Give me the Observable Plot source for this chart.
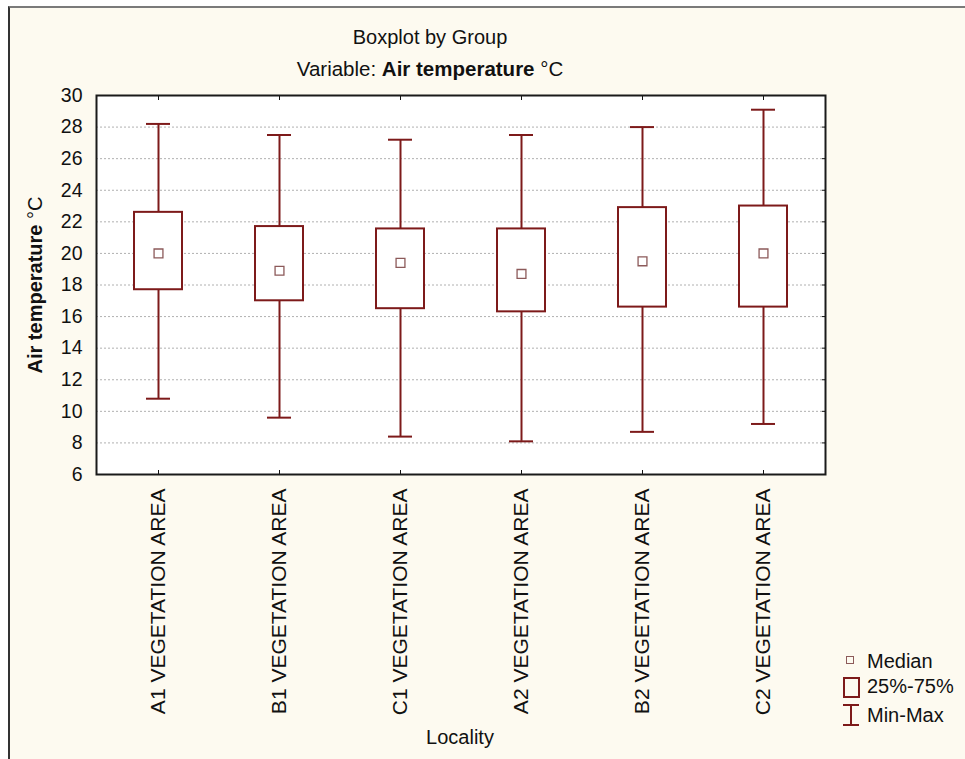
<!DOCTYPE html>
<html>
<head>
<meta charset="utf-8">
<script src="https://cdn.jsdelivr.net/npm/d3@7"></script>
<script src="https://cdn.jsdelivr.net/npm/@observablehq/plot@0.6"></script>
<style>
  body { margin: 0; background: #ffffff; }
  #wrap { position: relative; width: 965px; height: 759px; overflow: hidden; font-family: 'Liberation Sans', Arial, sans-serif; color: #111; }
  #panel { position: absolute; left: 8px; top: 6px; width: 957px; height: 753px; background: #fdfaf0; border-top: 2px solid #7a7a7a; border-left: 2px solid #333; box-sizing: border-box; }
  .t { position: absolute; white-space: nowrap; line-height: 20px; }
  #chart { position: absolute; left: 0; top: 0; }
</style>
</head>
<body>
<div id="wrap">
  <div id="panel"></div>
  <div id="chart"></div>
  <div class="t" style="left:230px; width:400px; text-align:center; top:27px; font-size:20px;">Boxplot by Group</div>
  <div class="t" style="left:180px; width:500px; text-align:center; top:59px; font-size:20.5px;">Variable: <b>Air temperature</b> °C</div>
  <div class="t" style="left:35px; top:285px; font-size:20px; font-weight:bold; transform: translate(-50%,-50%) rotate(-90deg);">Air temperature <span style="font-weight:normal">°C</span></div>
  <div class="t" style="left:310px; width:300px; text-align:center; top:727px; font-size:20px;">Locality</div>
  <!-- legend -->
  <div style="position:absolute; left:846px; top:656px; width:8px; height:8px; border:1.3px solid #8c5a5a; box-sizing:border-box;"></div>
  <div class="t" style="left:867px; top:651px; font-size:20px;">Median</div>
  <div style="position:absolute; left:843px; top:677px; width:17px; height:21px; border:2px solid #7d1a1a; box-sizing:border-box;"></div>
  <div class="t" style="left:867px; top:676px; font-size:20px;">25%-75%</div>
  <div style="position:absolute; left:850px; top:705px; width:2px; height:20px; background:#7d1a1a;"></div>
  <div style="position:absolute; left:843px; top:704px; width:16px; height:2px; background:#7d1a1a;"></div>
  <div style="position:absolute; left:843px; top:724px; width:16px; height:2px; background:#7d1a1a;"></div>
  <div class="t" style="left:867px; top:705px; font-size:20px;">Min-Max</div>
</div>
<script>
const categories = ["A1 VEGETATION AREA", "B1 VEGETATION AREA", "C1 VEGETATION AREA", "A2 VEGETATION AREA", "B2 VEGETATION AREA", "C2 VEGETATION AREA"];
const minValues = [10.8, 9.6, 8.4, 8.1, 8.7, 9.2];
const q1Values = [17.7, 17.0, 16.5, 16.3, 16.6, 16.6];
const medianValues = [20.0, 18.9, 19.4, 18.7, 19.5, 20.0];
const q3Values = [22.6, 21.7, 21.55, 21.55, 22.9, 23.0];
const maxValues = [28.2, 27.5, 27.2, 27.5, 28.0, 29.1];
const yTicks = [6, 8, 10, 12, 14, 16, 18, 20, 22, 24, 26, 28, 30];

const data = categories.map((c, i) => ({
  cat: c, min: minValues[i], q1: q1Values[i], med: medianValues[i], q3: q3Values[i], max: maxValues[i]
}));

const boxColor = "#7d1a1a";
const medColor = "#8c5a5a";

const chart = Plot.plot({
  width: 965,
  height: 759,
  marginLeft: 96,
  marginRight: 140,
  marginTop: 95,
  marginBottom: 285,
  style: { background: "transparent", fontFamily: "'Liberation Sans', Arial, sans-serif", fontSize: "19px", color: "#111", overflow: "visible" },
  x: { type: "band", domain: categories, paddingInner: 0.6, paddingOuter: 0.3, axis: null },
  y: { domain: [6, 30], axis: null },
  marks: [
    Plot.frame({ fill: "white" }),
    Plot.gridY(yTicks.slice(1, -1), { stroke: "#b0b0b0", strokeOpacity: 1, strokeDasharray: "2,2" }),
    Plot.axisY({ ticks: yTicks, tickSize: 0, tickPadding: 14, fontSize: 19.5, label: null }),
    Plot.axisY({ anchor: "right", ticks: yTicks, tickSize: -4, tickFormat: () => "", label: null, stroke: "#111" }),
    Plot.axisX({ anchor: "top", tickSize: -4, tickFormat: () => "", label: null, stroke: "#111" }),
    Plot.axisX({ anchor: "bottom", tickSize: -4, tickFormat: () => "", label: null, stroke: "#111" }),
    Plot.axisX({ anchor: "bottom", tickSize: 0, tickPadding: 14, tickRotate: -90, fontSize: 21, label: null }),
    Plot.ruleX(data, { x: "cat", y1: "min", y2: "q1", stroke: boxColor, strokeWidth: 2 }),
    Plot.ruleX(data, { x: "cat", y1: "q3", y2: "max", stroke: boxColor, strokeWidth: 2 }),
    Plot.tickY(data, { x: "cat", y: "min", insetLeft: 12, insetRight: 12, stroke: boxColor, strokeWidth: 2 }),
    Plot.tickY(data, { x: "cat", y: "max", insetLeft: 12, insetRight: 12, stroke: boxColor, strokeWidth: 2 }),
    Plot.barY(data, { x: "cat", y1: "q1", y2: "q3", fill: "white", stroke: boxColor, strokeWidth: 2 }),
    Plot.dot(data, { x: "cat", y: "med", symbol: "square", r: 5, stroke: medColor, fill: "white", strokeWidth: 1.3 }),
    Plot.frame({ stroke: "#1a1a1a", strokeWidth: 2 })
  ]
});
document.getElementById("chart").appendChild(chart);
</script>
</body>
</html>
